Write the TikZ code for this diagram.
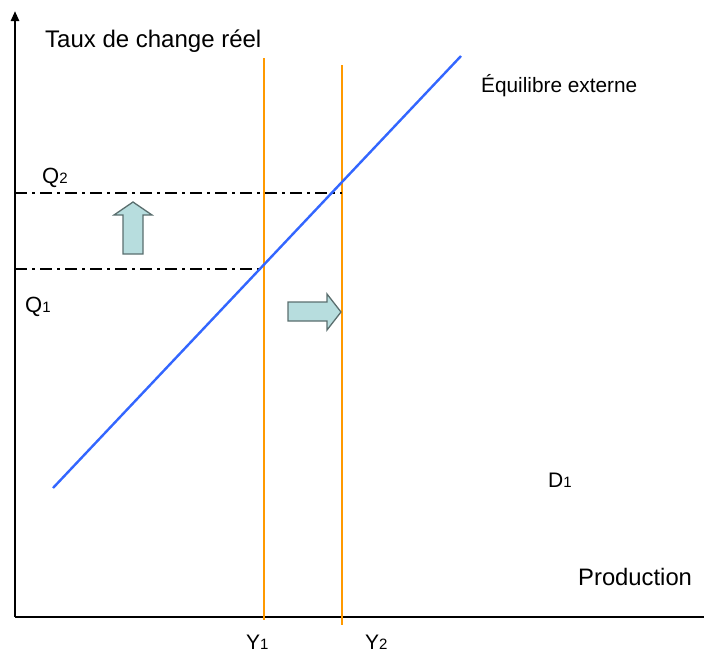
\documentclass[tikz,border=0pt]{standalone}
\usepackage{fontspec}
\setmainfont{Liberation Sans}
\usetikzlibrary{arrows.meta}
\definecolor{orangeline}{RGB}{255,153,0}
\definecolor{blueline}{RGB}{51,102,255}
\definecolor{arrowfill}{RGB}{183,221,222}
\definecolor{arrowedge}{RGB}{90,110,110}
\tikzset{
  axis/.style={line width=2.4pt, black},
  vline/.style={line width=2.3pt, orangeline},
  eqline/.style={line width=2.4pt, blueline},
  guide/.style={line width=1.8pt, black, dash pattern=on 12pt off 5pt on 3pt off 5pt},
  blockarrow/.style={fill=arrowfill, draw=arrowedge, line width=1.3pt, line join=miter},
  lbl/.style={anchor=base west, inner sep=0pt, text=black},
}
\newcommand{\sub}[1]{{\fontsize{15}{15}\selectfont #1}}
\begin{document}
\begin{tikzpicture}[x=1pt,y=-1pt]
\useasboundingbox (0,0) rectangle (704,654);
% axes
\coordinate (O) at (15,617);
\coordinate (Ytop) at (15,11);
\coordinate (Xend) at (704,617);
\draw[axis,-{Triangle[length=10pt,width=8pt]}] (O) -- (Ytop);
\draw[axis] (O) -- (Xend);
% vertical lines
\coordinate (Y1t) at (264,58);
\coordinate (Y1b) at (264,620);
\coordinate (Y2t) at (342,65);
\coordinate (Y2b) at (342,625);
\draw[vline] (Y1t) -- (Y1b);
\draw[vline] (Y2t) -- (Y2b);
% guide lines
\coordinate (Q2l) at (15,193);
\coordinate (Q2r) at (342,193);
\coordinate (Q1l) at (15,269);
\coordinate (Q1r) at (264,269);
\draw[guide] (Q2l) -- (Q2r);
\draw[guide] (Q1l) -- (Q1r);
% external equilibrium line
\coordinate (E1) at (53,488);
\coordinate (E2) at (461,56);
\draw[eqline] (E1) -- (E2);
% block arrows
\draw[blockarrow] (123,254) -- (143,254) -- (143,215) -- (152,215) -- (133,202) -- (114,215) -- (123,215) -- cycle;
\draw[blockarrow] (288,302) -- (327,302) -- (327,294) -- (341,312) -- (327,330) -- (327,321) -- (288,321) -- cycle;
% labels
\node[lbl, font=\fontsize{24}{24}\selectfont] (taux) at (45,47) {Taux de change réel};
\node[lbl, font=\fontsize{20.8}{21}\selectfont] (eq) at (481,92) {Équilibre externe};
\node[lbl, font=\fontsize{22}{22}\selectfont] (q2) at (42,183) {Q\sub{2}};
\node[lbl, font=\fontsize{22}{22}\selectfont] (q1) at (25,312) {Q\sub{1}};
\node[lbl, font=\fontsize{21}{21}\selectfont] (d1) at (548,487) {D\sub{1}};
\node[lbl, font=\fontsize{23.8}{24}\selectfont] (prod) at (578,585) {Production};
\node[lbl, font=\fontsize{21}{21}\selectfont] (y1) at (246,649) {Y\sub{1}};
\node[lbl, font=\fontsize{21}{21}\selectfont] (y2) at (365,649) {Y\sub{2}};
\end{tikzpicture}
\end{document}
